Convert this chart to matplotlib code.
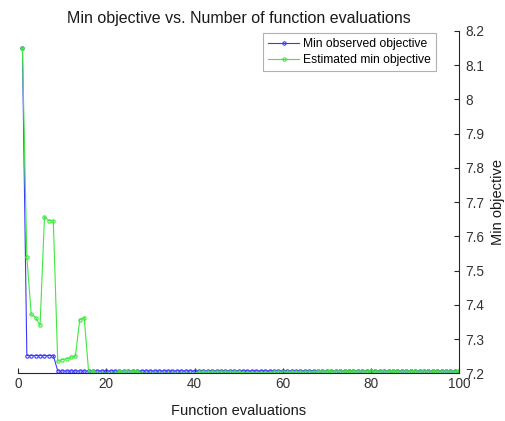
import numpy as np
import matplotlib
matplotlib.use('Agg')
import matplotlib.pyplot as plt
from matplotlib.ticker import FuncFormatter

plt.rcParams['font.family'] = ['Liberation Sans', 'DejaVu Sans']

evals = np.arange(1, 101)

# min observed objective per function evaluation
observed_first = [8.150, 7.252, 7.252, 7.252, 7.252, 7.252, 7.252, 7.252]
observed_rest = [7.207] * 92
min_observed = np.array(observed_first + observed_rest)

# estimated min objective per function evaluation
estimated_first = [8.150, 7.540, 7.372, 7.363, 7.340, 7.657, 7.646, 7.646,
                   7.235, 7.240, 7.243, 7.247, 7.250, 7.357, 7.363]
estimated_rest = ([7.205, 7.206] + [7.199] * 5 + [7.206] * 5 + [7.199] * 13
                  + [7.204] * 10 + [7.200] * 7 + [7.204] * 10 + [7.206] * 33)
est_min = np.array(estimated_first + estimated_rest)

fig = plt.figure(figsize=(5.06, 4.21), dpi=100)
ax = fig.add_axes([0.0356, 0.1133, 0.872, 0.8131])

ax.plot(evals, min_observed, '-o', color='#3a3aff', lw=0.8, ms=2.4,
        mfc='none', mew=0.8, label='Min observed objective')
ax.plot(evals, est_min, '-o', color='#3fe83f', lw=0.8, ms=2.4,
        mfc='none', mew=0.8, label='Estimated min objective')

ax.set_xlim(0, 100)
ax.set_ylim(7.2, 8.2)
ax.set_xticks(np.arange(0, 101, 20))
ax.set_yticks(np.round(np.arange(7.2, 8.21, 0.1), 1))
ax.yaxis.set_major_formatter(FuncFormatter(lambda v, p: '%g' % round(v, 1)))

ax.yaxis.tick_right()
ax.yaxis.set_label_position('right')
for side in ('left', 'top'):
    ax.spines[side].set_visible(False)
for side in ('right', 'bottom'):
    ax.spines[side].set_color('#262626')
    ax.spines[side].set_linewidth(0.8)
ax.tick_params(direction='in', length=3.5, width=0.8, colors='#262626',
               labelcolor='#333333', labelsize=9.8)
ax.tick_params(axis='x', pad=3)
ax.tick_params(axis='y', right=True, left=False, pad=4.5)

ax.set_title('Min objective vs. Number of function evaluations',
             fontsize=11.5, color='#1a1a1a', pad=6)
ax.set_xlabel('Function evaluations', fontsize=10.5, color='#1a1a1a', labelpad=9)
ax.set_ylabel('Min objective', fontsize=10.5, color='#1a1a1a', labelpad=4.5)

leg = ax.legend(loc='upper right', bbox_to_anchor=(0.948, 0.995), borderaxespad=0,
                numpoints=1, fontsize=8.7, handlelength=2.6, borderpad=0.45,
                labelspacing=0.3, handletextpad=0.3, fancybox=False, framealpha=1)
leg.get_frame().set_edgecolor('#b0b0b0')
leg.get_frame().set_linewidth(0.8)

fig.savefig('out.png', dpi=100)
